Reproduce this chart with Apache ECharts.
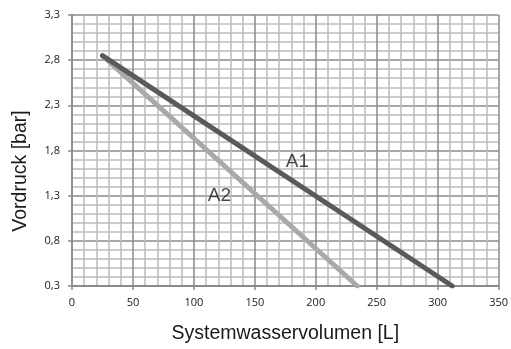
<!DOCTYPE html>
<html>
<head>
<meta charset="utf-8">
<script src="https://cdn.jsdelivr.net/npm/echarts@6/dist/echarts.min.js"></script>
<style>
html,body{margin:0;padding:0;background:#fff;}
#c{width:511px;height:349px;}
</style>
</head>
<body>
<div id="c"></div>
<script>
// Data (x: Systemwasservolumen [L], y: Vordruck [bar])
const seriesNames = ['A1', 'A2'];
const a1X = [25, 312];
const a1Y = [2.85, 0.3];
const a2X = [25, 234];
const a2Y = [2.85, 0.3];
// label anchor values (in data units)
const labelX = [185, 121];
const labelY = [1.67, 1.30];
const xTicks = [0, 50, 100, 150, 200, 250, 300, 350];
const yTicks = [0.3, 0.8, 1.3, 1.8, 2.3, 2.8, 3.3];

const yBase = yTicks[0]; // axis offset so that ticks start at 0,3
const toAxis = v => +(v - yBase).toFixed(4);

const chart = echarts.init(document.getElementById('c'), null, {renderer: 'canvas'});

const majorColor = '#8a8a8a';
const minorColor = '#bcbcbc';
const tickFont = {fontFamily: 'Open Sans', fontSize: 11, color: '#1a1a1a'};

chart.setOption({
  animation: false,
  backgroundColor: '#ffffff',
  grid: {left: 72, top: 15, right: 11, bottom: 57, containLabel: false},
  xAxis: {
    type: 'value',
    min: xTicks[0], max: xTicks[xTicks.length - 1], interval: 50,
    axisLine: {show: true, lineStyle: {color: majorColor, width: 2}},
    axisTick: {show: true, length: 4, lineStyle: {color: majorColor, width: 1.5}},
    axisLabel: Object.assign({margin: 11}, tickFont),
    splitLine: {show: true, lineStyle: {color: majorColor, width: 1.5}},
    minorTick: {show: false, splitNumber: 5},
    minorSplitLine: {show: true, lineStyle: {color: minorColor, width: 1.5}},
    name: 'Systemwasservolumen [L]',
    nameLocation: 'middle',
    nameGap: 38,
    nameTextStyle: {fontFamily: 'Liberation Sans', fontSize: 19.5, color: '#1a1a1a'}
  },
  yAxis: {
    type: 'value',
    min: 0, max: toAxis(yTicks[yTicks.length - 1]), interval: 0.5,
    axisLine: {show: true, lineStyle: {color: majorColor, width: 1.5}},
    axisTick: {show: true, length: 4, lineStyle: {color: majorColor, width: 1.5}},
    axisLabel: Object.assign({
      margin: 12,
      formatter: v => (v + yBase).toFixed(1).replace('.', ',')
    }, tickFont),
    splitLine: {show: true, lineStyle: {color: majorColor, width: 1.5}},
    minorTick: {show: false, splitNumber: 5},
    minorSplitLine: {show: true, lineStyle: {color: minorColor, width: 1.5}}
  },
  graphic: [{
    type: 'text',
    x: 21, y: 171,
    rotation: Math.PI / 2,
    style: {
      text: 'Vordruck [bar]',
      fontFamily: 'Liberation Sans', fontSize: 19.5, fill: '#1a1a1a',
      align: 'center', verticalAlign: 'middle'
    }
  }],
  series: [
    {
      name: seriesNames[0], type: 'line', showSymbol: false, z: 4,
      lineStyle: {color: '#5a5a5a', width: 5, cap: 'round'},
      data: a1X.map((x, i) => [x, toAxis(a1Y[i])])
    },
    {
      name: seriesNames[1], type: 'line', showSymbol: false, z: 3,
      lineStyle: {color: '#a9a9a9', width: 5, cap: 'round'},
      data: a2X.map((x, i) => [x, toAxis(a2Y[i])])
    },
    {
      type: 'scatter', symbolSize: 0, z: 5, silent: true,
      label: {
        show: true, position: 'inside',
        formatter: p => seriesNames[p.dataIndex],
        fontFamily: 'Liberation Sans', fontSize: 19, color: '#1a1a1a'
      },
      data: labelX.map((x, i) => [x, toAxis(labelY[i])])
    }
  ]
});
</script>
</body>
</html>
